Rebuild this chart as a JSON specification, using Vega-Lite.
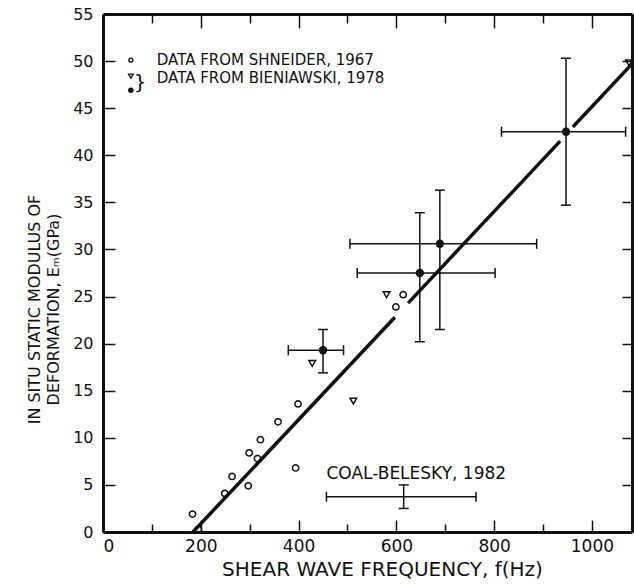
{
  "$schema": "https://vega.github.io/schema/vega-lite/v6.json",
  "width": 529,
  "height": 518,
  "autosize": {"type": "none"},
  "padding": {"left": 103, "top": 14, "right": 2, "bottom": 55},
  "background": "white",
  "config": {
    "view": {"stroke": null},
    "font": "DejaVu Sans",
    "axis": {
      "grid": false,
      "domainColor": "#111",
      "domainWidth": 3,
      "tickColor": "#111",
      "tickWidth": 1.5,
      "labelColor": "#111",
      "titleColor": "#111",
      "labelFont": "DejaVu Sans",
      "titleFont": "DejaVu Sans",
      "titleFontWeight": "normal"
    }
  },
  "datasets": {
    "fit": [
      {"f": 184, "E": 0, "seg": 1},
      {"f": 597, "E": 22.8, "seg": 1},
      {"f": 624, "E": 24.3, "seg": 2},
      {"f": 935, "E": 41.5, "seg": 2},
      {"f": 961, "E": 43.0, "seg": 3},
      {"f": 1082, "E": 49.7, "seg": 3}
    ],
    "shneider": [
      {"f": 195, "E": 0.3},
      {"f": 183, "E": 1.9},
      {"f": 249, "E": 4.1},
      {"f": 264, "E": 5.9},
      {"f": 297, "E": 4.9},
      {"f": 299, "E": 8.4},
      {"f": 316, "E": 7.8},
      {"f": 322, "E": 9.8},
      {"f": 358, "E": 11.7},
      {"f": 399, "E": 13.6},
      {"f": 394, "E": 6.8},
      {"f": 599, "E": 23.9},
      {"f": 614, "E": 25.2}
    ],
    "bien_tri": [
      {"f": 428, "E": 17.9},
      {"f": 512, "E": 13.9},
      {"f": 580, "E": 25.2},
      {"f": 1076, "E": 49.8}
    ],
    "bars": [
      {"src": "Bieniawski", "f": 450, "E": 19.3, "fLo": 379, "fHi": 492, "ELo": 16.9, "EHi": 21.5},
      {"src": "Bieniawski", "f": 648, "E": 27.5, "fLo": 520, "fHi": 802, "ELo": 20.2, "EHi": 33.9},
      {"src": "Bieniawski", "f": 689, "E": 30.6, "fLo": 505, "fHi": 887, "ELo": 21.5, "EHi": 36.3},
      {"src": "Bieniawski", "f": 947, "E": 42.5, "fLo": 815, "fHi": 1069, "ELo": 34.7, "EHi": 50.3},
      {"src": "Coal", "f": 615, "E": 3.75, "fLo": 457, "fHi": 763, "ELo": 2.5, "EHi": 5.0}
    ],
    "one": [{}]
  },
  "resolve": {"axis": {"x": "independent", "y": "independent"}},
  "layer": [
    {
      "data": {"name": "fit"},
      "mark": {"type": "line", "color": "#111", "strokeWidth": 3.5},
      "encoding": {
        "x": {
          "field": "f", "type": "quantitative",
          "scale": {"domain": [0, 1082], "nice": false, "zero": false},
          "axis": {
            "orient": "bottom",
            "values": [0, 100, 200, 300, 400, 500, 600, 700, 800, 900, 1000],
            "format": "d",
            "labelExpr": "datum.value % 200 === 0 ? datum.label : ''",
            "tickSize": {"condition": {"test": "datum.value % 200 === 0", "value": -12}, "value": -8},
            "labelFontSize": 17,
            "labelPadding": 18,
            "title": "SHEAR WAVE FREQUENCY, f(Hz)",
            "titleFontSize": 20,
            "titleX": 279,
            "titleY": 37,
            "titleAlign": "center",
            "titleBaseline": "middle"
          }
        },
        "y": {
          "field": "E", "type": "quantitative",
          "scale": {"domain": [0, 55], "nice": false},
          "axis": {
            "orient": "left",
            "values": [0, 5, 10, 15, 20, 25, 30, 35, 40, 45, 50, 55],
            "format": "d",
            "tickSize": -12,
            "labelFontSize": 16,
            "labelPadding": 22,
            "title": ["IN SITU STATIC MODULUS OF", "DEFORMATION, Eₘ(GPa)"],
            "titleFontSize": 16,
            "titleLineHeight": 19,
            "titleAngle": 270,
            "titleX": -69,
            "titleY": 295,
            "titleAlign": "center",
            "titleBaseline": "middle"
          }
        },
        "detail": {"field": "seg"}
      }
    },
    {
      "data": {"name": "shneider"},
      "mark": {"type": "point", "shape": "circle", "filled": false, "stroke": "#111", "strokeWidth": 1.5, "size": 40, "opacity": 1},
      "encoding": {
        "x": {
          "field": "f", "type": "quantitative",
          "axis": {
            "orient": "top",
            "values": [0, 100, 200, 300, 400, 500, 600, 700, 800, 900, 1000],
            "labels": false,
            "tickSize": {"condition": {"test": "datum.value % 200 === 0", "value": -14}, "value": -9},
            "title": null
          }
        },
        "y": {
          "field": "E", "type": "quantitative",
          "axis": {
            "orient": "right",
            "values": [0, 5, 10, 15, 20, 25, 30, 35, 40, 45, 50, 55],
            "labels": false,
            "tickSize": -10,
            "title": null
          }
        }
      }
    },
    {
      "data": {"name": "bien_tri"},
      "mark": {"type": "point", "shape": "triangle-down", "filled": false, "stroke": "#111", "strokeWidth": 1.5, "size": 45, "opacity": 1},
      "encoding": {
        "x": {"field": "f", "type": "quantitative", "axis": null},
        "y": {"field": "E", "type": "quantitative", "axis": null}
      }
    },
    {
      "data": {"name": "bars"},
      "mark": {"type": "rule", "color": "#111", "strokeWidth": 1.5},
      "encoding": {
        "x": {"field": "fLo", "type": "quantitative", "axis": null},
        "x2": {"field": "fHi"},
        "y": {"field": "E", "type": "quantitative", "axis": null}
      }
    },
    {
      "data": {"name": "bars"},
      "mark": {"type": "rule", "color": "#111", "strokeWidth": 1.5},
      "encoding": {
        "x": {"field": "f", "type": "quantitative", "axis": null},
        "y": {"field": "ELo", "type": "quantitative", "axis": null},
        "y2": {"field": "EHi"}
      }
    },
    {
      "data": {"name": "bars"},
      "mark": {"type": "tick", "orient": "vertical", "color": "#111", "thickness": 1.5, "size": 10, "opacity": 1},
      "encoding": {
        "x": {"field": "fLo", "type": "quantitative", "axis": null},
        "y": {"field": "E", "type": "quantitative", "axis": null}
      }
    },
    {
      "data": {"name": "bars"},
      "mark": {"type": "tick", "orient": "vertical", "color": "#111", "thickness": 1.5, "size": 10, "opacity": 1},
      "encoding": {
        "x": {"field": "fHi", "type": "quantitative", "axis": null},
        "y": {"field": "E", "type": "quantitative", "axis": null}
      }
    },
    {
      "data": {"name": "bars"},
      "mark": {"type": "tick", "orient": "horizontal", "color": "#111", "thickness": 1.5, "size": 10, "opacity": 1},
      "encoding": {
        "x": {"field": "f", "type": "quantitative", "axis": null},
        "y": {"field": "ELo", "type": "quantitative", "axis": null}
      }
    },
    {
      "data": {"name": "bars"},
      "mark": {"type": "tick", "orient": "horizontal", "color": "#111", "thickness": 1.5, "size": 10, "opacity": 1},
      "encoding": {
        "x": {"field": "f", "type": "quantitative", "axis": null},
        "y": {"field": "EHi", "type": "quantitative", "axis": null}
      }
    },
    {
      "data": {"name": "bars"},
      "transform": [{"filter": "datum.src === 'Bieniawski'"}],
      "mark": {"type": "point", "shape": "circle", "filled": true, "color": "#111", "size": 70, "opacity": 1},
      "encoding": {
        "x": {"field": "f", "type": "quantitative", "axis": null},
        "y": {"field": "E", "type": "quantitative", "axis": null}
      }
    },
    {
      "data": {"name": "one"},
      "mark": {"type": "point", "shape": "circle", "filled": false, "stroke": "#111", "strokeWidth": 1.3, "size": 16, "opacity": 1},
      "encoding": {
        "x": {"datum": 57, "type": "quantitative", "axis": null},
        "y": {"datum": 50.1, "type": "quantitative", "axis": null}
      }
    },
    {
      "data": {"name": "one"},
      "mark": {"type": "point", "shape": "triangle-down", "filled": false, "stroke": "#111", "strokeWidth": 1.3, "size": 22, "opacity": 1},
      "encoding": {
        "x": {"datum": 57, "type": "quantitative", "axis": null},
        "y": {"datum": 48.4, "type": "quantitative", "axis": null}
      }
    },
    {
      "data": {"name": "one"},
      "mark": {"type": "point", "shape": "circle", "filled": true, "color": "#111", "size": 30, "opacity": 1},
      "encoding": {
        "x": {"datum": 57, "type": "quantitative", "axis": null},
        "y": {"datum": 46.9, "type": "quantitative", "axis": null}
      }
    },
    {
      "data": {"name": "one"},
      "mark": {"type": "text", "text": "}", "fontSize": 20, "color": "#111", "baseline": "middle", "align": "center", "font": "DejaVu Sans"},
      "encoding": {
        "x": {"datum": 76, "type": "quantitative", "axis": null},
        "y": {"datum": 47.7, "type": "quantitative", "axis": null}
      }
    },
    {
      "data": {"name": "one"},
      "mark": {"type": "text", "text": "DATA FROM SHNEIDER, 1967", "fontSize": 15, "color": "#111", "baseline": "middle", "align": "left", "font": "DejaVu Sans"},
      "encoding": {
        "x": {"datum": 110, "type": "quantitative", "axis": null},
        "y": {"datum": 50.1, "type": "quantitative", "axis": null}
      }
    },
    {
      "data": {"name": "one"},
      "mark": {"type": "text", "text": "DATA FROM BIENIAWSKI, 1978", "fontSize": 15, "color": "#111", "baseline": "middle", "align": "left", "font": "DejaVu Sans"},
      "encoding": {
        "x": {"datum": 110, "type": "quantitative", "axis": null},
        "y": {"datum": 48.2, "type": "quantitative", "axis": null}
      }
    },
    {
      "data": {"name": "one"},
      "mark": {"type": "text", "text": "COAL-BELESKY, 1982", "fontSize": 17, "color": "#111", "baseline": "middle", "align": "left", "font": "DejaVu Sans"},
      "encoding": {
        "x": {"datum": 457, "type": "quantitative", "axis": null},
        "y": {"datum": 6.2, "type": "quantitative", "axis": null}
      }
    }
  ]
}
